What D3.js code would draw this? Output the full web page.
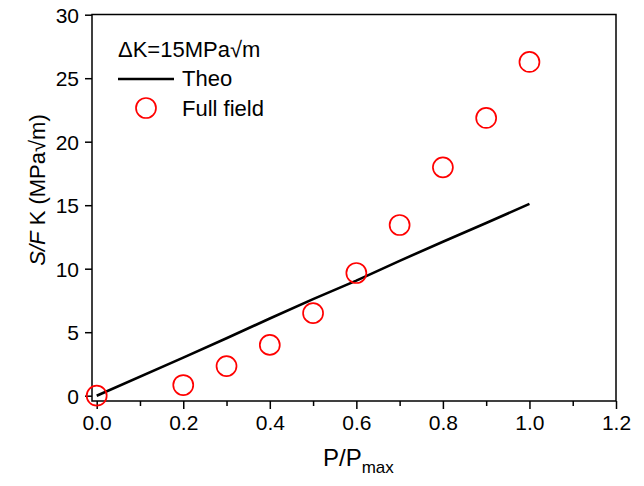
<!DOCTYPE html>
<html lang="en">
<head>
  <meta charset="UTF-8">
  <title>SIF K vs P/Pmax</title>
  <style>
    body { margin: 0; background: #fff; }
    svg text { font-family: "Liberation Sans", Arial, sans-serif; fill: #000; }
    .axis path, .axis line { fill: none; stroke: #000; stroke-width: 1.5; }
    .axis text { font-size: 21px; }
  </style>
</head>
<body>
  <script src="https://cdn.jsdelivr.net/npm/d3@7"></script>
  <script>
    // data
    var theoX = [0, 0.2, 0.3, 0.4, 0.5, 0.6, 0.7, 0.8, 0.9, 1.0];
    var theoY = [0, 3.0, 4.52, 6.08, 7.6, 9.06, 10.62, 12.12, 13.6, 15.1];
    var fullX = [0, 0.2, 0.3, 0.4, 0.5, 0.6, 0.7, 0.8, 0.9, 1.0];
    var fullY = [0, 0.84, 2.33, 4.0, 6.5, 9.66, 13.44, 17.98, 21.87, 26.28];
    var xTicks = [0, 0.2, 0.4, 0.6, 0.8, 1.0, 1.2];
    var xMinor = [0.1, 0.3, 0.5, 0.7, 0.9, 1.1];
    var yTicks = [0, 5, 10, 15, 20, 25, 30];

    var width = 644, height = 486;
    // plot frame (note: "top" is reserved on window)
    var fL = 92, fR = 616, fT = 14.5, fB = 401;

    var x = d3.scaleLinear().domain([0, 1.2]).range([96.7, 616]);
    var y = d3.scaleLinear().domain([0, 30]).range([395.7, 14.7]);

    var svg = d3.select("body").append("svg").attr("width", width).attr("height", height);

    // frame
    svg.append("rect").attr("x", fL).attr("y", fT)
      .attr("width", fR - fL).attr("height", fB - fT)
      .attr("fill", "none").attr("stroke", "#000").attr("stroke-width", 1.5);

    // x axis
    var xAxis = d3.axisBottom(x).tickValues(xTicks).tickSize(8).tickPadding(6)
      .tickFormat(d3.format(".1f"));
    var gx = svg.append("g").attr("class", "axis")
      .attr("transform", "translate(0," + fB + ")").call(xAxis);
    gx.select(".domain").remove();
    var gxm = svg.append("g").attr("class", "axis")
      .attr("transform", "translate(0," + fB + ")")
      .call(d3.axisBottom(x).tickValues(xMinor).tickSize(5).tickFormat(""));
    gxm.select(".domain").remove();

    // y axis
    var yAxis = d3.axisLeft(y).tickValues(yTicks).tickSize(7).tickPadding(6);
    var gy = svg.append("g").attr("class", "axis")
      .attr("transform", "translate(" + fL + ",0)").call(yAxis);
    gy.select(".domain").remove();
    gy.selectAll("text").attr("dy", "0.36em");

    // theo line
    var line = d3.line().x(function (d) { return x(d[0]); }).y(function (d) { return y(d[1]); });
    svg.append("path").datum(d3.zip(theoX, theoY)).attr("d", line)
      .attr("fill", "none").attr("stroke", "#000").attr("stroke-width", 2.6);

    // full field circles
    svg.selectAll("circle.full").data(d3.zip(fullX, fullY)).enter().append("circle")
      .attr("class", "full")
      .attr("cx", function (d) { return x(d[0]); })
      .attr("cy", function (d) { return y(d[1]); })
      .attr("r", 10)
      .attr("fill", "none").attr("stroke", "#ff0000").attr("stroke-width", 1.7);

    // axis titles
    var xl = svg.append("text").attr("x", 323).attr("y", 466).style("font-size", "24px");
    xl.append("tspan").text("P/P");
    xl.append("tspan").attr("dy", 7).style("font-size", "17px").text("max");

    var yl = svg.append("text").attr("transform", "translate(45,190) rotate(-90)")
      .attr("text-anchor", "middle").style("font-size", "22px");
    yl.append("tspan").style("font-style", "italic").text("S/F");
    yl.append("tspan").text(" K (MPa\u221Am)");

    // legend
    svg.append("text").attr("x", 118).attr("y", 57).style("font-size", "22px")
      .text("\u0394K=15MPa\u221Am");
    svg.append("line").attr("x1", 118).attr("x2", 174).attr("y1", 79).attr("y2", 79)
      .attr("stroke", "#000").attr("stroke-width", 2.6);
    svg.append("text").attr("x", 182).attr("y", 86).style("font-size", "22px").text("Theo");
    svg.append("circle").attr("cx", 146).attr("cy", 108).attr("r", 10)
      .attr("fill", "none").attr("stroke", "#ff0000").attr("stroke-width", 1.7);
    svg.append("text").attr("x", 182).attr("y", 116).style("font-size", "22px").text("Full field");
  </script>
</body>
</html>
